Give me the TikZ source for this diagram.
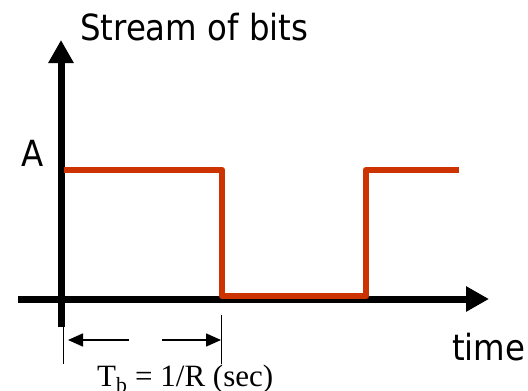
\documentclass[tikz,border=0pt]{standalone}
\usepackage{fontspec}
\setmainfont{DejaVu Sans Condensed}
\newfontfamily\serifface{Liberation Serif}
\usetikzlibrary{arrows.meta}
\definecolor{sigred}{HTML}{CC3300}
\tikzset{
  axis/.style={line width=7pt, -{Triangle[length=23pt,width=24pt]}},
  signal/.style={line width=6.5pt, sigred, line join=round},
  tickline/.style={line width=1pt},
  dimarrow/.style={line width=1.6pt, -{Triangle[length=15pt,width=13pt]}},
  label/.style={inner sep=0pt, font=\fontsize{36}{40}\selectfont}
}
\begin{document}
\begin{tikzpicture}[x=1pt,y=-1pt]
\useasboundingbox (0,0) rectangle (528,391);
% axes
\coordinate (ybot) at (61,327);
\coordinate (ytop) at (61,40);
\coordinate (xl) at (18,299);
\coordinate (xr) at (489,299);
\draw[axis] (ybot) -- (ytop);
\draw[axis] (xl) -- (xr);
% signal
\coordinate (s0) at (64,170);
\coordinate (s1) at (222,170);
\coordinate (s2) at (222,296);
\coordinate (s3) at (366,296);
\coordinate (s4) at (366,170);
\coordinate (s5) at (459,170);
\draw[signal] (s0) -- (s1) -- (s2) -- (s3) -- (s4) -- (s5);
% ticks
\coordinate (t1a) at (63,327);
\coordinate (t1b) at (63,364);
\coordinate (t2a) at (221,315);
\coordinate (t2b) at (221,364);
\draw[tickline] (t1a) -- (t1b);
\draw[tickline] (t2a) -- (t2b);
% dimension arrows
\coordinate (d1s) at (129,340);
\coordinate (d1e) at (68,340);
\coordinate (d2s) at (162,340);
\coordinate (d2e) at (221,340);
\draw[dimarrow] (d1s) -- (d1e);
\draw[dimarrow] (d2s) -- (d2e);
% labels
\node[label, anchor=base west] (title) at (80,40) {Stream of bits};
\node[label, anchor=base west] (amp) at (21,166) {A};
\node[label, anchor=base west] (time) at (452,360) {time};
\node[inner sep=0pt, anchor=base west, font=\serifface\fontsize{31}{34}\selectfont] (tb) at (97,386) {T\textsubscript{b} = 1/R (sec)};
\end{tikzpicture}
\end{document}
